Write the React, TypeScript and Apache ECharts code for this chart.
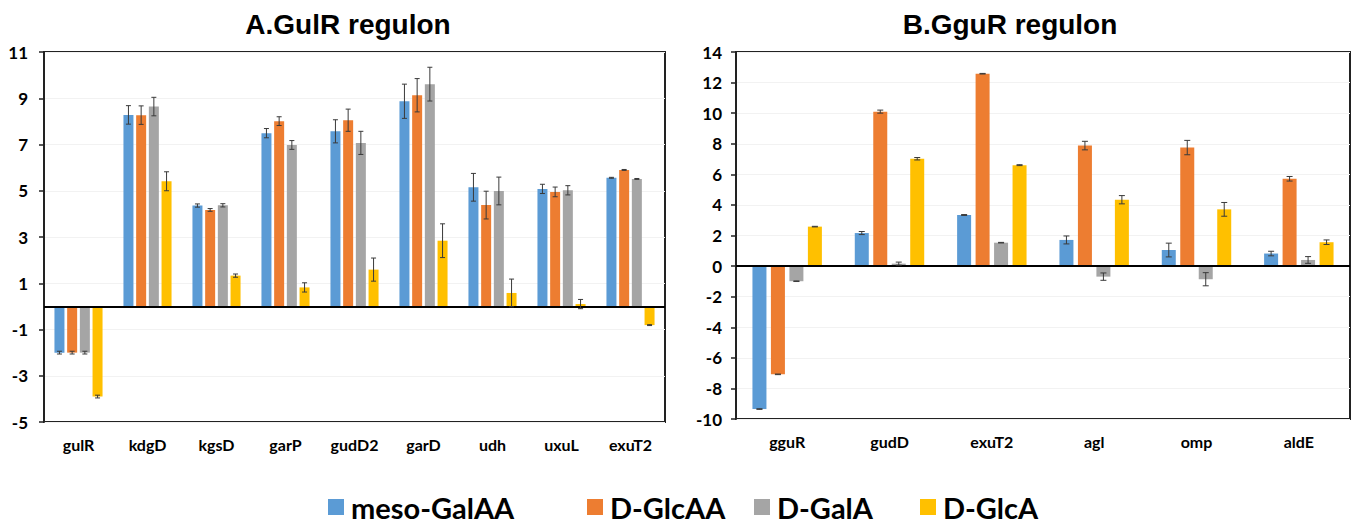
import React, { useEffect, useRef } from 'react';
import * as echarts from 'echarts';

const seriesNames = ['meso-GalAA', 'D-GlcAA', 'D-GalA', 'D-GlcA'];
const colors = ['#5B9BD5', '#ED7D31', '#A5A5A5', '#FFC000'];

// Panel A: GulR regulon
const genesA = ['gulR', 'kdgD', 'kgsD', 'garP', 'gudD2', 'garD', 'udh', 'uxuL', 'exuT2'];
const aMesoGalAA = [-2.0, 8.28, 4.36, 7.49, 7.57, 8.87, 5.15, 5.08, 5.56];
const aMesoGalAAErr = [0.06, 0.4, 0.07, 0.2, 0.5, 0.74, 0.6, 0.2, 0.02];
const aDGlcAA = [-2.0, 8.27, 4.17, 8.01, 8.05, 9.13, 4.38, 4.95, 5.9];
const aDGlcAAErr = [0.06, 0.4, 0.06, 0.19, 0.48, 0.72, 0.6, 0.21, 0.02];
const aDGalA = [-2.0, 8.64, 4.37, 6.98, 7.07, 9.61, 4.99, 5.02, 5.51];
const aDGalAErr = [0.06, 0.4, 0.07, 0.19, 0.5, 0.73, 0.6, 0.2, 0.02];
const aDGlcA = [-3.9, 5.41, 1.33, 0.82, 1.59, 2.84, 0.58, 0.1, -0.81];
const aDGlcAErr = [0.06, 0.41, 0.07, 0.2, 0.5, 0.73, 0.6, 0.2, 0.02];
const aTickMin = -5;
const aTickMax = 11;

// Panel B: GguR regulon
const genesB = ['gguR', 'gudD', 'exuT2', 'agl', 'omp', 'aldE'];
const bMesoGalAA = [-9.35, 2.16, 3.34, 1.71, 1.05, 0.82];
const bMesoGalAAErr = [0.02, 0.1, 0.03, 0.26, 0.45, 0.15];
const bDGlcAA = [-7.08, 10.1, 12.58, 7.88, 7.75, 5.71];
const bDGlcAAErr = [0.02, 0.1, 0.02, 0.28, 0.47, 0.15];
const bDGalA = [-0.99, 0.16, 1.53, -0.69, -0.86, 0.4];
const bDGalAErr = [0.02, 0.1, 0.02, 0.24, 0.43, 0.22];
const bDGlcA = [2.58, 7.02, 6.6, 4.34, 3.71, 1.56];
const bDGlcAErr = [0.02, 0.08, 0.03, 0.27, 0.45, 0.15];
const bTickMin = -10;
const bTickMax = 14;

const titles = ['A.GulR regulon', 'B.GguR regulon'];

const labelFont = 'Lato, "Open Sans", sans-serif';

function barSeries(grid: number, idx: number, values: number[], barW: number, gapPct: number) {
  const s: any = {
    type: 'bar',
    name: seriesNames[idx],
    xAxisIndex: grid,
    yAxisIndex: grid,
    data: values,
    barWidth: barW,
    barGap: Math.round(gapPct * 100) + '%',
    itemStyle: { color: colors[idx] },
    z: 2,
  };
  if (idx === 0) {
    s.markLine = {
      silent: true,
      symbol: ['none', 'none'],
      label: { show: false },
      lineStyle: { color: '#000', width: 2, type: 'solid' },
      data: [{ yAxis: 0 }],
      z: 6,
    };
  }
  return s;
}

function errSeries(grid: number, idx: number, values: number[], errs: number[], barW: number, gapPct: number, cap: number) {
  const gap = barW * gapPct;
  const total = 4 * barW + 3 * gap;
  const off = -total / 2 + barW / 2 + idx * (barW + gap);
  return {
    type: 'custom',
    name: 'err-' + grid + '-' + idx,
    xAxisIndex: grid,
    yAxisIndex: grid,
    silent: true,
    z: 10,
    data: values.map((v, i) => [i, v, errs[i]]),
    encode: { x: 0, y: 1 },
    renderItem: (params: any, api: any) => {
      const i = api.value(0);
      const v = api.value(1);
      const e = api.value(2);
      const top = api.coord([i, v + e]);
      const bot = api.coord([i, v - e]);
      const x = top[0] + off;
      const st = { stroke: '#3a3a3a', lineWidth: 1 };
      return {
        type: 'group',
        children: [
          { type: 'line', shape: { x1: x, y1: top[1], x2: x, y2: bot[1] }, style: st },
          { type: 'line', shape: { x1: x - cap, y1: top[1], x2: x + cap, y2: top[1] }, style: st },
          { type: 'line', shape: { x1: x - cap, y1: bot[1], x2: x + cap, y2: bot[1] }, style: st },
        ],
      };
    },
  };
}

export default function App() {
  const ref = useRef<HTMLDivElement>(null);
  useEffect(() => {
    document.body.style.margin = '0';
    if (!ref.current) return;
    const chart = echarts.init(ref.current, undefined, { renderer: 'svg' });

    const aVals = [aMesoGalAA, aDGlcAA, aDGalA, aDGlcA];
    const aErrs = [aMesoGalAAErr, aDGlcAAErr, aDGalAErr, aDGlcAErr];
    const bVals = [bMesoGalAA, bDGlcAA, bDGalA, bDGlcA];
    const bErrs = [bMesoGalAAErr, bDGlcAAErr, bDGalAErr, bDGlcAErr];

    const aW = 10, aG = 0.27;
    const bW = 14, bG = 0.32;

    const series: any[] = [];
    aVals.forEach((v, i) => series.push(barSeries(0, i, v, aW, aG)));
    bVals.forEach((v, i) => series.push(barSeries(1, i, v, bW, bG)));
    aVals.forEach((v, i) => series.push(errSeries(0, i, v, aErrs[i], aW, aG, 2.5)));
    bVals.forEach((v, i) => series.push(errSeries(1, i, v, bErrs[i], bW, bG, 3)));

    const yAxisCommon = (min: number, max: number, margin: number) => ({
      type: 'value',
      min,
      max,
      interval: 2,
      axisLine: { show: true, lineStyle: { color: '#222', width: 2 } },
      axisTick: { show: true, length: 5, lineStyle: { color: '#222', width: 1.5 } },
      axisLabel: { color: '#000', fontSize: 17, fontWeight: 'bold', fontFamily: labelFont, margin },
      splitLine: { show: true, lineStyle: { color: '#f2f2f2', width: 1 } },
    });

    const xAxisCommon = (data: string[], gridIndex: number) => ({
      type: 'category',
      gridIndex,
      data,
      axisLine: { show: false, onZero: false },
      axisTick: { show: false },
      axisLabel: { color: '#000', fontSize: 16, fontWeight: 'bold', fontFamily: labelFont, margin: 14 },
      splitLine: { show: false },
    });

    const legendStarts = [328, 587, 754, 920];

    chart.setOption({
      animation: false,
      backgroundColor: '#fff',
      grid: [
        { left: 44, top: 52, width: 621, height: 370, show: true, borderColor: '#222', borderWidth: 2, containLabel: false },
        { left: 736, top: 52, width: 614, height: 367, show: true, borderColor: '#222', borderWidth: 2, containLabel: false },
      ],
      xAxis: [xAxisCommon(genesA, 0), xAxisCommon(genesB, 1)],
      yAxis: [
        { ...yAxisCommon(aTickMin, aTickMax, 16), gridIndex: 0 },
        { ...yAxisCommon(bTickMin, bTickMax, 14), gridIndex: 1 },
      ],
      legend: seriesNames.map((n, i) => ({
        data: [n],
        left: legendStarts[i] - 5,
        top: 487,
        padding: 5,
        icon: 'rect',
        itemWidth: 16,
        itemHeight: 16,
        selectedMode: false,
        textStyle: { color: '#000', fontSize: 29, lineHeight: 30, fontWeight: 'bold', fontFamily: labelFont, padding: [0, 0, 0, 2] },
      })),
      graphic: [
        {
          type: 'text',
          x: 348,
          y: 24,
          style: { text: titles[0], align: 'center', verticalAlign: 'middle', font: 'bold 28px "Liberation Sans", Arial, sans-serif', fill: '#000' },
        },
        {
          type: 'text',
          x: 1010,
          y: 24,
          style: { text: titles[1], align: 'center', verticalAlign: 'middle', font: 'bold 28px "Liberation Sans", Arial, sans-serif', fill: '#000' },
        },
      ],
      series,
    });
    return () => chart.dispose();
  }, []);
  return <div ref={ref} style={{ width: 1355, height: 525 }} />;
}
